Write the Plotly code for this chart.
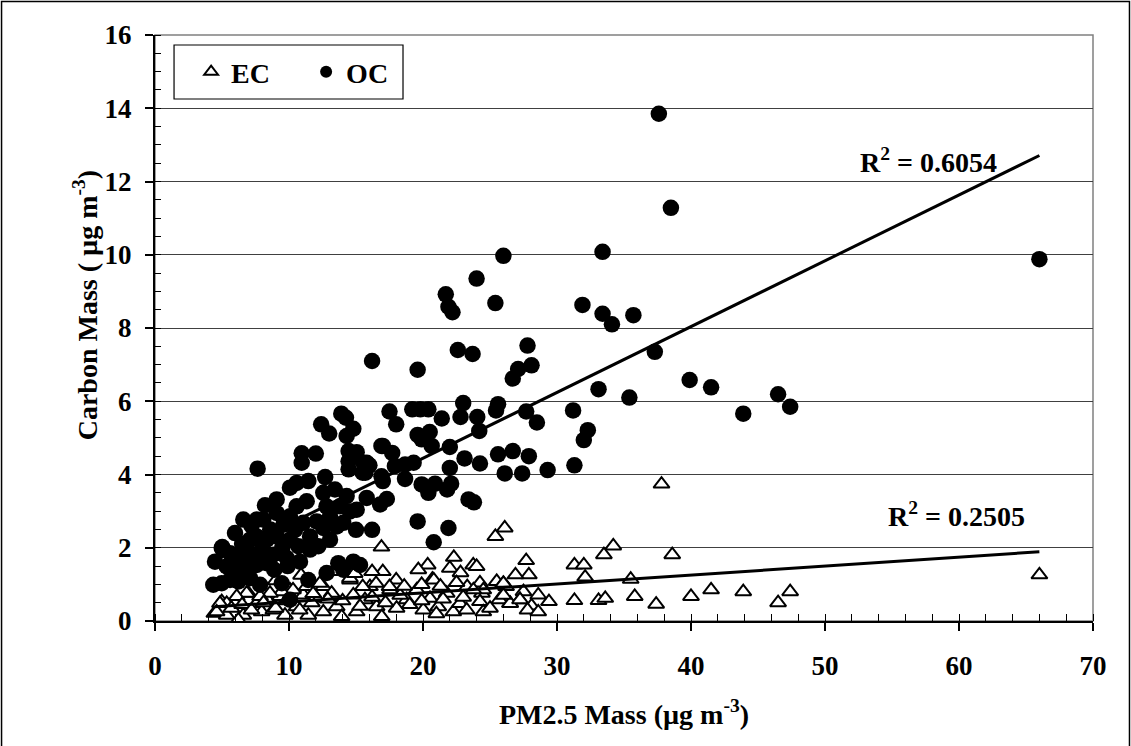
import plotly.graph_objects as go

# PM2.5 mass (x) and elemental carbon mass (y), ug/m3
ec_pm25 = [37.8, 38.6, 66.0, 37.4, 40.0, 41.5, 43.9, 46.5, 47.4,
           34.2, 33.5, 31.3, 32.0, 32.1, 35.5, 35.8, 31.3, 33.1, 33.6,
           26.1, 25.4, 29.4, 28.6, 27.7, 27.9, 27.5, 28.1, 26.9, 26.2, 25.5, 25.7, 24.25, 24.4,
           23.75, 24.0, 22.3, 22.0, 22.8, 20.35, 19.65, 20.7, 18.0, 17.0, 16.9, 16.2, 20.8,
           23.3, 24.5, 26.5, 27.24, 26.0,
           4.98, 4.43, 5.35, 5.97, 6.59, 6.97, 7.59, 7.96, 8.33, 8.83, 9.33, 9.70, 10.07, 10.57,
           11.07, 11.44, 12.06, 12.56, 12.56, 13.18, 13.56, 13.93, 14.55, 14.80, 15.05, 15.67,
           16.04, 16.54, 16.92, 17.54, 18.03, 18.78, 19.53, 20.02, 20.52, 21.14, 21.77, 22.26,
           22.76, 23.26, 23.76, 24.25, 24.50, 26.0, 26.5, 27.24,
           13.3, 14.55, 15.5, 16.5, 17.5, 12.3, 11.3, 10.3, 9.46, 8.58, 7.84, 6.84, 6.1, 5.35,
           4.85, 6.22,
           4.6, 5.7, 6.5, 7.2, 8.1, 9.0, 9.8, 10.8, 11.7, 12.9, 14.0, 15.3, 16.2, 17.2, 18.3,
           19.0, 19.9, 21.0, 21.5, 23.0, 25.0, 26.0, 27.8, 28.6, 9.0, 10.9, 11.8, 14.9, 18.6,
           19.9, 21.3, 22.5]
ec_mass = [3.74, 1.81, 1.26, 0.46, 0.67, 0.85, 0.80, 0.50, 0.80,
           2.05, 1.81, 1.53, 1.53, 1.20, 1.14, 0.67, 0.56, 0.56, 0.62,
           2.54, 2.31, 0.53, 0.71, 1.65, 1.26, 0.80, 0.41, 1.26, 0.94, 1.08, 0.58, 1.04, 0.76,
           1.53, 1.49, 1.74, 1.44, 1.32, 1.53, 1.40, 1.14, 1.12, 1.35, 2.02, 1.35, 1.12,
           0.94, 0.85, 0.48, 0.58, 1.03,
           0.53, 0.21, 0.16, 0.48, 0.16, 0.76, 0.48, 0.25, 0.62, 0.30, 0.67, 0.16, 0.85, 0.39,
           0.71, 0.16, 0.62, 0.94, 0.25, 0.76, 0.39, 0.12, 1.12, 0.71, 0.25, 0.58,
           0.94, 0.39, 0.12, 0.85, 0.35, 0.58, 0.85, 0.30, 0.62, 0.39, 0.76, 0.25,
           0.48, 0.30, 0.85, 0.53, 0.25, 1.03, 0.48, 0.58,
           1.35, 1.17, 0.94, 1.03, 0.94, 1.03, 0.94, 0.85, 0.80, 0.76, 0.67, 0.76, 0.67, 0.48,
           0.48, 0.03,
           0.25, 0.35, 0.45, 0.30, 0.50, 0.35, 0.55, 0.30, 0.50, 0.60, 0.55, 0.40, 0.65, 0.50, 0.70,
           0.45, 0.55, 0.20, 0.60, 0.65, 0.35, 0.70, 0.30, 0.25, 1.10, 1.25, 0.75, 1.30, 0.95,
           1.00, 0.95, 1.05]

# PM2.5 mass (x) and organic carbon mass (y), ug/m3
oc_pm25 = [37.6, 38.5, 66.0, 26.0, 33.4, 24.0, 21.7, 21.9, 22.2, 25.4, 31.9, 33.4, 34.1, 35.7,
           22.6, 23.7, 16.2, 19.6, 27.8, 28.1, 27.1, 26.7, 37.3, 33.1, 35.4, 39.9, 41.5, 43.9,
           46.5, 47.4, 17.5, 18.0, 19.2, 19.8, 20.4, 21.4, 23.0, 22.8, 24.05, 25.6, 25.45, 24.2,
           27.7, 28.5, 31.2, 32.3, 32.0, 22.0, 19.6, 20.5, 19.9, 20.65, 17.0, 17.7, 23.1, 24.25,
           25.6, 26.7, 27.9, 26.1, 27.4, 29.3, 31.3, 18.66, 19.3, 17.9, 16.9, 18.66, 19.9, 20.9,
           20.4, 21.8, 22.1, 17.3, 16.8, 23.4, 23.8, 19.6, 21.9, 20.8, 22.0,
           7.66, 10.95, 10.95, 12.0, 12.4, 13.0, 13.9, 14.25, 14.8, 14.3, 14.45, 15.05, 14.45,
           14.45, 15.55, 16.0, 15.7, 16.2, 15.0, 12.7, 11.44, 10.57, 10.07, 9.08, 8.21, 6.59,
           7.59, 5.97, 5.02, 16.9, 15.8, 17.0, 15.8, 15.5,
           12.56, 13.43, 14.3, 12.8, 13.8, 14.55, 15.05, 13.06, 13.56, 12.56, 12.07, 12.19, 13.06,
           14.05, 10.57, 11.32, 10.07, 11.07, 9.58, 10.45, 11.57, 10.7, 11.57, 10.07, 9.08, 8.34,
           9.08, 8.08, 7.59, 7.09, 5.6, 6.1, 6.84, 7.84, 8.83, 9.83, 10.82,
           4.48, 4.98, 5.35, 6.1, 6.84, 7.59, 8.34, 4.35, 4.98, 5.6, 6.22, 7.09, 7.84, 9.46,
           10.07, 11.44, 12.81, 13.68, 14.8, 15.3, 14.05,
           6.5, 7.2, 8.0, 8.6, 9.5, 6.9, 8.9, 9.9]
oc_mass = [13.85, 11.28, 9.88, 9.97, 10.08, 9.35, 8.92, 8.58, 8.43, 8.68, 8.63, 8.39, 8.10, 8.35,
           7.40, 7.29, 7.10, 6.86, 7.52, 6.98, 6.88, 6.62, 7.35, 6.33, 6.10, 6.58, 6.38, 5.66,
           6.19, 5.85, 5.72, 5.37, 5.78, 5.78, 5.78, 5.53, 5.95, 5.57, 5.57, 5.92, 5.75, 5.19,
           5.72, 5.42, 5.75, 5.21, 4.94, 4.75, 5.08, 5.16, 4.96, 4.78, 4.78, 4.59, 4.44, 4.30,
           4.55, 4.64, 4.50, 4.03, 4.03, 4.12, 4.25, 4.27, 4.32, 4.23, 3.95, 3.88, 3.73, 3.75,
           3.50, 3.59, 3.75, 3.33, 3.18, 3.32, 3.24, 2.72, 2.54, 2.15, 4.18,
           4.16, 4.58, 4.32, 4.57, 5.37, 5.12, 5.66, 5.55, 5.25, 5.05, 4.64, 4.61, 4.36,
           4.14, 4.32, 4.25, 4.05, 2.49, 2.49, 3.93, 3.82, 3.77, 3.64, 3.32, 3.16, 2.77,
           2.77, 2.40, 2.02, 4.78, 4.32, 3.82, 3.36, 4.05,
           3.50, 3.59, 3.41, 3.13, 3.13, 2.99, 3.04, 2.86, 2.58, 2.54, 2.72, 2.04, 2.22,
           2.68, 3.13, 3.27, 2.86, 2.68, 2.63, 2.49, 2.31, 2.04, 1.95, 2.22, 2.31, 2.22,
           2.95, 2.77, 2.31, 2.22, 1.85, 1.76, 1.95, 1.85, 1.81, 1.72, 1.62,
           1.62, 1.99, 1.49, 1.49, 1.40, 1.53, 1.58, 0.99, 1.03, 1.12, 1.08, 1.17, 0.99, 1.03,
           0.58, 1.12, 1.31, 1.58, 1.62, 1.53, 1.40,
           2.1, 2.6, 2.0, 2.5, 2.0, 1.7, 1.4, 1.5]

# Linear trendlines (slope, intercept) and their R-squared values
ec_fit = (0.0244, 0.28)
oc_fit = (0.1797, 0.85)
ec_r2 = "0.2505"
oc_r2 = "0.6054"

SERIF = "Liberation Serif, Times New Roman, serif"

fig = go.Figure()

fig.add_trace(go.Scatter(
    x=ec_pm25, y=ec_mass, mode="markers", name="EC",
    marker=dict(symbol="triangle-up", size=14, color="white",
                line=dict(color="black", width=2)),
))
fig.add_trace(go.Scatter(
    x=oc_pm25, y=oc_mass, mode="markers", name="OC",
    marker=dict(symbol="circle", size=16.5, color="black", line=dict(width=0)),
))

for xs, (slope, icpt) in ((ec_pm25, ec_fit), (oc_pm25, oc_fit)):
    x0, x1 = min(xs), max(xs)
    fig.add_trace(go.Scatter(
        x=[x0, x1], y=[slope * x0 + icpt, slope * x1 + icpt], mode="lines",
        line=dict(color="black", width=3), showlegend=False, hoverinfo="skip",
    ))

r2_font = dict(family=SERIF, size=28, color="black", weight="bold")
fig.add_annotation(x=57.7, y=12.56, text=f"R<sup>2</sup> = {oc_r2}", showarrow=False, font=r2_font)
fig.add_annotation(x=59.8, y=2.92, text=f"R<sup>2</sup> = {ec_r2}", showarrow=False, font=r2_font)

# y-axis title, placed as a rotated annotation
fig.add_annotation(xref="paper", yref="paper", x=-0.074, y=0.538, xanchor="center", yanchor="middle",
                   text="Carbon Mass ( µg m<sup>-3</sup>)", textangle=-90, showarrow=False,
                   font=dict(family=SERIF, size=28, color="black", weight="bold"))

# plot-area frame, legend box and outer chart frame
fig.add_shape(type="rect", xref="paper", yref="paper", x0=0, y0=0, x1=1, y1=1,
              line=dict(color="#808080", width=1.5), layer="below")
fig.add_shape(type="rect", xref="paper", yref="paper", x0=0.0203, y0=0.8908, x1=0.2644, y1=0.9829,
              line=dict(color="black", width=1.2), fillcolor="white", layer="below")
fig.add_shape(type="rect", xref="paper", yref="paper", x0=-0.1636, y0=-0.25, x1=1.0389, y1=1.0572,
              line=dict(color="black", width=1.5), layer="below")

tickfont = dict(family=SERIF, size=27, color="black", weight="bold")

fig.update_layout(
    width=1131, height=746,
    margin=dict(l=155, r=38, t=35, b=125),
    paper_bgcolor="white", plot_bgcolor="white",
    showlegend=True,
    legend=dict(
        orientation="h", x=0.0385, y=0.9369, xanchor="left", yanchor="middle",
        bgcolor="rgba(0,0,0,0)", borderwidth=0,
        font=dict(family=SERIF, size=28, color="black", weight="bold"),
        itemsizing="constant", entrywidth=70, entrywidthmode="pixels",
    ),
    xaxis=dict(
        range=[0, 70], tickmode="linear", tick0=0, dtick=10,
        showgrid=False, zeroline=False,
        showline=True, linecolor="black", linewidth=2,
        ticks="outside", ticklen=8, tickwidth=1.5, tickcolor="black",
        minor=dict(dtick=2, ticks="inside", ticklen=7, tickwidth=1, tickcolor="black", showgrid=False),
        tickfont=tickfont, ticklabelstandoff=12,
        title=dict(text="PM2.5 Mass (µg m<sup>-3</sup>)", standoff=24,
                   font=dict(family=SERIF, size=28, color="black", weight="bold")),
    ),
    yaxis=dict(
        range=[0, 16], tickmode="linear", tick0=0, dtick=2,
        showgrid=True, gridcolor="#404040", gridwidth=1, zeroline=False,
        showline=True, linecolor="black", linewidth=2,
        ticks="outside", ticklen=8, tickwidth=1.5, tickcolor="black",
        minor=dict(dtick=0.5, ticks="inside", ticklen=6, tickwidth=1, tickcolor="black", showgrid=False),
        tickfont=tickfont, ticklabelstandoff=8,
    ),
)

fig.write_html("out.html")
